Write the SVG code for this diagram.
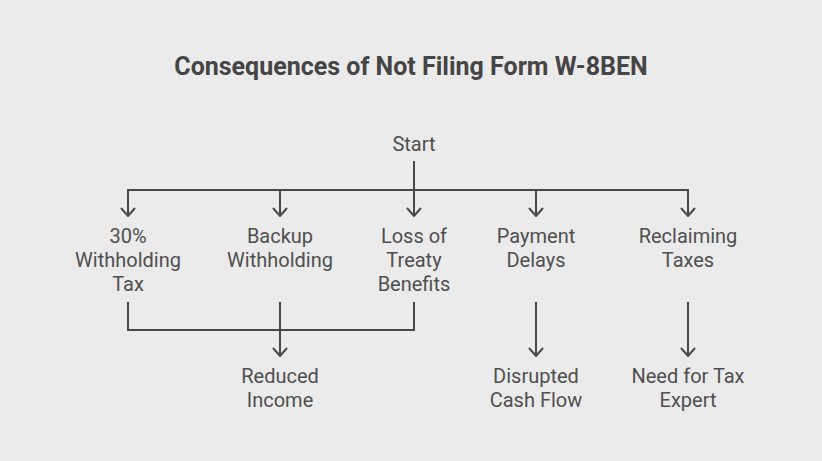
<svg xmlns="http://www.w3.org/2000/svg" width="822" height="461" viewBox="0 0 822 461">
<defs>
<style>
.t{font-family:Roboto,"Liberation Sans",sans-serif;font-size:20px;fill:#4f4f4f;text-anchor:middle}
.title{font-family:Roboto,"Liberation Sans",sans-serif;font-size:25px;font-weight:bold;fill:#454545;text-anchor:middle}
.c{fill:none;stroke:#474747;stroke-width:2}
</style>
<marker id="ah" viewBox="0 0 10 16" refX="9" refY="8" markerWidth="10" markerHeight="16" markerUnits="userSpaceOnUse" orient="auto">
<path d="M1,1 L9,8 L1,15" fill="none" stroke="#474747" stroke-width="2"/>
</marker>
</defs>
<rect width="822" height="461" fill="#ebebeb"/>
<text class="title" x="411" y="75">Consequences of Not Filing Form W-8BEN</text>
<g id="connectors">
<path class="c" d="M414,161 V190"/>
<path class="c" d="M128,216 V190 H688 V216"/>
<path class="c" d="M128,190 V216" marker-end="url(#ah)"/>
<path class="c" d="M280,190 V216" marker-end="url(#ah)"/>
<path class="c" d="M414,190 V216" marker-end="url(#ah)"/>
<path class="c" d="M536,190 V216" marker-end="url(#ah)"/>
<path class="c" d="M688,190 V216" marker-end="url(#ah)"/>
<path class="c" d="M128,302 V330 H414 V302"/>
<path class="c" d="M280,302 V356" marker-end="url(#ah)"/>
<path class="c" d="M536,302 V356" marker-end="url(#ah)"/>
<path class="c" d="M688,302 V356" marker-end="url(#ah)"/>
</g>
<g id="start"><text class="t" x="414" y="151">Start</text></g>
<g id="withholding30"><text class="t" x="128" y="243">30%</text><text class="t" x="128" y="267">Withholding</text><text class="t" x="128" y="291">Tax</text></g>
<g id="backup"><text class="t" x="280" y="243">Backup</text><text class="t" x="280" y="267">Withholding</text></g>
<g id="treaty"><text class="t" x="414" y="243">Loss of</text><text class="t" x="414" y="267">Treaty</text><text class="t" x="414" y="291">Benefits</text></g>
<g id="delays"><text class="t" x="536" y="243">Payment</text><text class="t" x="536" y="267">Delays</text></g>
<g id="reclaim"><text class="t" x="688" y="243">Reclaiming</text><text class="t" x="688" y="267">Taxes</text></g>
<g id="income"><text class="t" x="280" y="383">Reduced</text><text class="t" x="280" y="407">Income</text></g>
<g id="cashflow"><text class="t" x="536" y="383">Disrupted</text><text class="t" x="536" y="407">Cash Flow</text></g>
<g id="expert"><text class="t" x="688" y="383">Need for Tax</text><text class="t" x="688" y="407">Expert</text></g>
</svg>
